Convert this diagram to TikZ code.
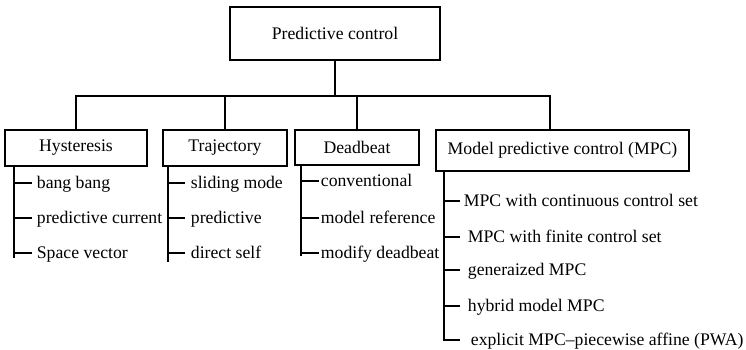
\documentclass[tikz,border=0pt]{standalone}
\usepackage{fontspec}
\setmainfont{Liberation Serif}
\begin{document}
\begin{tikzpicture}[x=1pt,y=-1pt,line width=1.8pt,
  every node/.style={font=\fontsize{17.7}{21}\selectfont},
  boxnode/.style={draw,inner sep=0pt},
  item/.style={anchor=west,inner ysep=0pt,text height=11pt,text depth=0pt}]
\useasboundingbox[fill=white] (0,0) rectangle (746,349);
% top
\node[boxnode,minimum width=210pt,minimum height=53pt] (top) at (335,33.5) {Predictive control};
\coordinate (bus) at (0,96);
\coordinate (mpcj) at (550,96);
% second level
\node[boxnode,minimum width=142pt,minimum height=36pt] (hyst) at (76,148) {Hysteresis};
\node[boxnode,minimum width=124pt,minimum height=36pt] (traj) at (225,148) {Trajectory};
\node[boxnode,minimum width=124pt,minimum height=35pt] (dead) at (357,147.5) {Deadbeat};
\node[boxnode,minimum width=253pt,minimum height=41pt] (mpc) at (562.5,150.5) {Model predictive control (MPC)};
\draw (top.south) -- (top.south |- bus);
\draw (hyst.north) -- (hyst.north |- bus) -- (mpcj) -- (mpcj |- mpc.north);
\draw (traj.north) -- (traj.north |- bus);
\draw (dead.north) -- (dead.north |- bus);
% Hysteresis items
\coordinate (ht) at (14,0);
\node[item,inner xsep=4pt] (h1) at (32,183) {bang bang};
\node[item,inner xsep=4pt] (h2) at (32,218) {predictive current};
\node[item,inner xsep=4pt] (h3) at (32,253) {Space vector};
\coordinate (hend) at (14,258);
\draw (ht |- hyst.south) -- (hend);
\foreach \i in {h1,h2,h3} \draw (ht |- \i.west) -- (\i.west);
% Trajectory items
\coordinate (tt) at (168,0);
\node[item,inner xsep=5pt] (t1) at (185,183) {sliding mode};
\node[item,inner xsep=5pt] (t2) at (185,218) {predictive};
\node[item,inner xsep=5pt] (t3) at (185,253) {direct self};
\coordinate (tend) at (168,262);
\draw (tt |- traj.south) -- (tend);
\foreach \i in {t1,t2,t3} \draw (tt |- \i.west) -- (\i.west);
% Deadbeat items
\coordinate (dt) at (301,0);
\node[item,inner xsep=1pt] (d1) at (319,181) {conventional};
\node[item,inner xsep=1pt] (d2) at (319,218) {model reference};
\node[item,inner xsep=1pt] (d3) at (319,253) {modify deadbeat};
\coordinate (dend) at (301,256);
\draw (dt |- dead.south) -- (dend);
\foreach \i in {d1,d2,d3} \draw (dt |- \i.west) -- (\i.west);
% MPC items
\coordinate (mt) at (444,0);
\node[item,inner xsep=3pt] (m1) at (460,201) {MPC with continuous control set};
\node[item,inner xsep=7pt] (m2) at (460,237) {MPC with finite control set};
\node[item,inner xsep=7pt] (m3) at (460,270) {generaized MPC};
\node[item,inner xsep=7pt] (m4) at (460,306) {hybrid model MPC};
\node[item,inner xsep=10pt] (m5) at (460,340) {explicit MPC–piecewise affine (PWA)};
\draw (mt |- mpc.south) -- (mt |- m5.west) -- (m5.west);
\foreach \i in {m1,m2,m3,m4} \draw (mt |- \i.west) -- (\i.west);
\end{tikzpicture}
\end{document}
